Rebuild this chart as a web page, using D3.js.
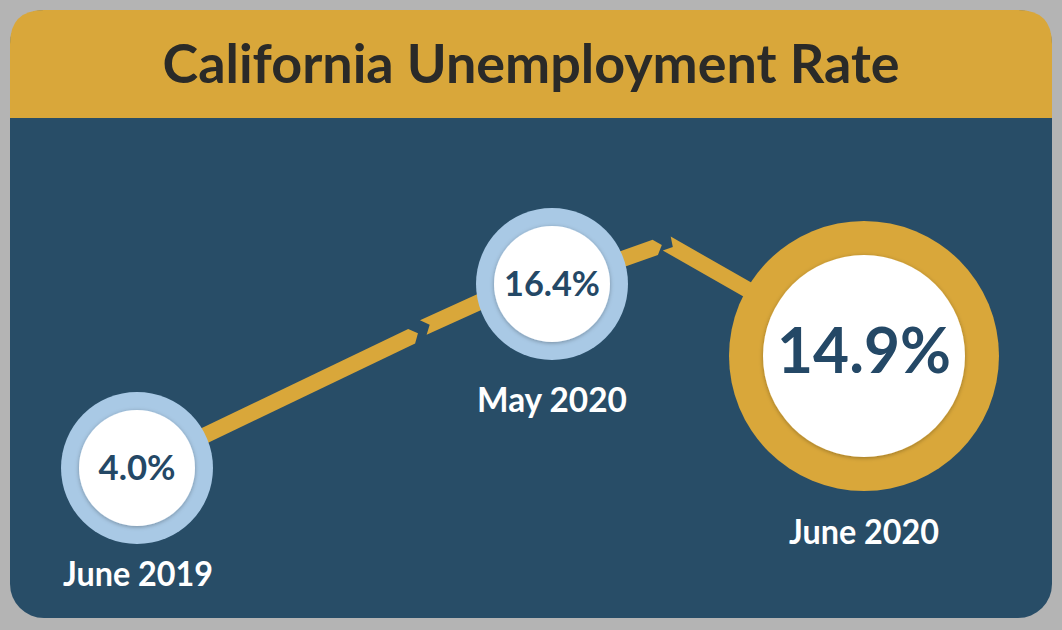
<!DOCTYPE html>
<html>
<head>
<meta charset="utf-8">
<script src="https://cdn.jsdelivr.net/npm/d3@7/dist/d3.min.js"></script>
<style>
  html, body { margin: 0; padding: 0; background: #b4b4b4; }
  svg { display: block; }
  text { font-family: Lato, "Open Sans", "DejaVu Sans", sans-serif; font-weight: 700; }
</style>
</head>
<body>
<svg id="chart" width="1062" height="630"></svg>
<script>
// ---- Data ----
const title = "California Unemployment Rate";
const categories = ["June 2019", "May 2020", "June 2020"];
const values = [4.0, 16.4, 14.9];
const valueLabels = ["4.0%", "16.4%", "14.9%"];
const highlight = [false, false, true];

// ---- Layout / style ----
const W = 1062, H = 630;
const card = { x: 10, y: 10, w: 1042, h: 608, r: 34, header: 108 };
const colors = {
  bg: "#b4b4b4", gold: "#d9a73a", navy: "#284d67", ring: "#a9c9e5",
  white: "#ffffff", num: "#244866", title: "#2a2a28", label: "#ffffff"
};
const labelGap = [42, 52, 53];
const numWidth = [77, 96, 174];

const svg = d3.select("#chart");
const defs = svg.append("defs");
const f = defs.append("filter").attr("id", "inshadow").attr("x", "-20%").attr("y", "-20%").attr("width", "140%").attr("height", "140%");
f.append("feDropShadow").attr("dx", 0).attr("dy", 1).attr("stdDeviation", 2.2)
  .attr("flood-color", "#000").attr("flood-opacity", 0.3);

svg.append("rect").attr("width", W).attr("height", H).attr("fill", colors.bg);

// card body (rounded)
svg.append("rect").attr("x", card.x).attr("y", card.y).attr("width", card.w).attr("height", card.h)
  .attr("rx", card.r).attr("fill", colors.navy);
// header: rounded top, square bottom
const hx = card.x, hy = card.y, hw = card.w, hh = card.header, r = card.r;
svg.append("path").attr("fill", colors.gold)
  .attr("d", `M${hx},${hy + hh} L${hx},${hy + r} Q${hx},${hy} ${hx + r},${hy} L${hx + hw - r},${hy} Q${hx + hw},${hy} ${hx + hw},${hy + r} L${hx + hw},${hy + hh} Z`);

svg.append("text").attr("x", 531).attr("y", 83).attr("text-anchor", "middle")
  .attr("font-size", 53).attr("fill", colors.title)
  .attr("textLength", 737).attr("lengthAdjust", "spacingAndGlyphs")
  .text(title);

// ---- Scales ----
const x = d3.scaleOrdinal().domain(categories).range([137, 552, 864]);
const y = d3.scaleLinear().domain([4.0, 14.9, 16.4]).range([468, 356, 284]);
const rOuter = d => d ? 135 : 76;
const rInner = d => d ? 101 : 58;

const pts = categories.map((c, i) => ({ i, c, v: values[i], lab: valueLabels[i], hl: highlight[i], x: x(c), y: y(values[i]) }));

// ---- Broken connector line ----
const bandW = 16, chev = 7;
function unit(P, Q) { const dx = Q[0] - P[0], dy = Q[1] - P[1], L = Math.hypot(dx, dy); return [dx / L, dy / L]; }
function piece(P, Q, startNotch, endPoint) {
  const u = unit(P, Q), n = [-u[1], u[0]], h = bandW / 2;
  const add = (A, k, v) => [A[0] + k * v[0], A[1] + k * v[1]];
  const out = [];
  if (startNotch) {
    const c = add(P, -chev, u);
    out.push(P, add(c, -h, n));
  } else out.push(add(P, -h, n));
  if (endPoint) {
    const c = add(Q, -chev, u);
    out.push(add(c, -h, n), Q, add(c, h, n));
  } else out.push(add(Q, -h, n), add(Q, h, n));
  if (startNotch) { const c = add(P, -chev, u); out.push(add(c, h, n)); }
  else out.push(add(P, h, n));
  return out;
}
const p0 = pts[0], p1 = pts[1], p2 = pts[2];
const aim = [p1.x, p1.y - 15];
const tB = 0.677;
const dir1 = unit([p0.x, p0.y], aim);
const br1 = [p0.x + (aim[0] - p0.x) * tB, p0.y + (aim[1] - p0.y) * tB];
const br1b = [br1[0] + 13 * dir1[0], br1[1] + 13 * dir1[1] - 3];
const peak = [p1.x + 0.352 * (p2.x - p1.x), p1.y - 39];
const peakB = [peak[0] + 11, peak[1] + 2];

const pieces = [
  piece([p0.x, p0.y], br1, false, true),
  piece(br1b, aim, true, false),
  piece([p1.x, p1.y], peak, false, true),
  piece(peakB, [p2.x, p2.y], true, false)
];
svg.append("g").selectAll("path").data(pieces).join("path")
  .attr("d", d => d3.line()(d) + "Z").attr("fill", colors.gold);

// ---- Circles ----
const g = svg.append("g").selectAll("g").data(pts).join("g")
  .attr("transform", d => `translate(${d.x},${d.y})`);
g.append("circle").attr("r", d => rOuter(d.hl)).attr("fill", d => d.hl ? colors.gold : colors.ring);
g.append("circle").attr("r", d => rInner(d.hl)).attr("fill", colors.white).attr("filter", "url(#inshadow)");
g.append("text").attr("text-anchor", "middle")
  .attr("y", d => d.hl ? 17 : 12)
  .attr("font-size", d => d.hl ? 64 : 35)
  .attr("textLength", d => numWidth[d.i]).attr("lengthAdjust", "spacingAndGlyphs")
  .attr("fill", colors.num).text(d => d.lab);

// category labels
svg.append("g").selectAll("text").data(pts).join("text")
  .attr("x", d => d.x + (d.i === 0 ? 1 : 0))
  .attr("y", d => d.y + rOuter(d.hl) + labelGap[d.i])
  .attr("text-anchor", "middle").attr("font-size", 35).attr("fill", colors.label)
  .attr("textLength", 150).attr("lengthAdjust", "spacingAndGlyphs")
  .text(d => d.c);
</script>
</body>
</html>
